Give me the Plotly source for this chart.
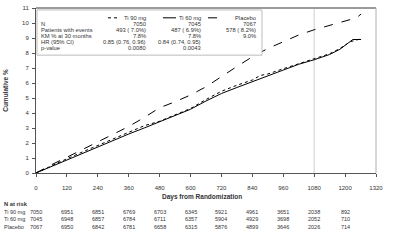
import plotly.graph_objects as go

# ---------------- data ----------------
days_ti90 = [0, 30, 60, 120, 180, 240, 300, 360, 420, 480, 540, 600, 660, 720, 780, 840, 870, 900, 960, 1020, 1080, 1140, 1180, 1220, 1262]
cum_ti90 = [0, 0.25, 0.5, 0.95, 1.4, 1.85, 2.3, 2.75, 3.15, 3.45, 3.85, 4.3, 4.9, 5.45, 5.85, 6.2, 6.5, 6.6, 6.95, 7.3, 7.6, 7.95, 8.3, 8.75, 8.95]

days_ti60 = [0, 30, 60, 120, 180, 240, 300, 360, 420, 480, 540, 600, 660, 720, 780, 840, 900, 960, 1020, 1080, 1140, 1180, 1215, 1230, 1262]
cum_ti60 = [0, 0.22, 0.45, 0.85, 1.3, 1.75, 2.2, 2.6, 3.0, 3.4, 3.8, 4.25, 4.8, 5.3, 5.7, 6.1, 6.5, 6.9, 7.25, 7.55, 7.9, 8.25, 8.7, 8.9, 8.9]

days_pbo = [0, 30, 60, 120, 180, 240, 300, 360, 420, 480, 540, 600, 660, 720, 780, 840, 900, 960, 1020, 1080, 1140, 1200, 1245, 1262]
cum_pbo = [0, 0.3, 0.55, 1.05, 1.55, 2.1, 2.6, 3.1, 3.7, 4.35, 4.75, 5.2, 5.75, 6.45, 7.1, 7.75, 8.3, 8.75, 9.2, 9.55, 9.85, 10.1, 10.35, 10.6]

series_names = ["Ti 90 mg", "Ti 60 mg", "Placebo"]
n_patients = ["7050", "7045", "7067"]
pts_events = ["493 ( 7.0%)", "487 ( 6.9%)", "578 ( 8.2%)"]
km_30 = ["7.8%", "7.8%", "9.0%"]
hr_ci = ["0.85 (0.76, 0.96)", "0.84 (0.74, 0.95)", ""]
p_values = ["0.0080", "0.0043", ""]
row_labels = ["N", "Patients with events", "KM % at 30 months", "HR (95% CI)", "p-value"]

tick_days = [0, 120, 240, 360, 480, 600, 720, 840, 960, 1080, 1200, 1320]
risk_days = [0, 120, 240, 360, 480, 600, 720, 840, 960, 1080, 1200]
at_risk_ti90 = [7050, 6951, 6851, 6769, 6703, 6345, 5921, 4961, 3651, 2038, 892]
at_risk_ti60 = [7045, 6948, 6857, 6784, 6711, 6357, 5904, 4929, 3698, 2052, 710]
at_risk_pbo = [7067, 6950, 6842, 6781, 6658, 6315, 5876, 4899, 3646, 2026, 714]
risk_labels = ["Ti 90 mg", "Ti 60 mg", "Placebo"]
ref_day = 1080

# ---------------- layout helpers ----------------
W, H = 400, 241
PL, PR, PT, PB = 36, 376, 5, 173
def px(x):
    return (x - PL) / (PR - PL)
def py(y):
    return (PB - y) / (PB - PT)

FONT = "Liberation Sans, Arial, sans-serif"
INK = "#333"

fig = go.Figure()
styles = [("dot", days_ti90, cum_ti90), ("solid", days_ti60, cum_ti60), ("dash", days_pbo, cum_pbo)]
for name, (dash, xs, ys) in zip(series_names, styles):
    fig.add_trace(go.Scatter(x=xs, y=ys, mode="lines", name=name,
                             line=dict(color="black", width=1, dash=dash, shape="linear"),
                             showlegend=False, hoverinfo="skip"))

shapes = []
shapes.append(dict(type="line", xref="x", yref="paper", x0=ref_day, x1=ref_day, y0=0, y1=1,
                   line=dict(color="#cfcfcf", width=1), layer="below"))
shapes.append(dict(type="line", xref="paper", yref="paper", x0=0, x1=1, y0=1, y1=1,
                   line=dict(color="#9a9a9a", width=2)))
shapes.append(dict(type="line", xref="paper", yref="paper", x0=1, x1=1, y0=0, y1=1,
                   line=dict(color="#b0b0b0", width=1)))
shapes.append(dict(type="rect", xref="paper", yref="paper", x0=px(37), x1=px(262), y0=py(53), y1=py(7),
                   line=dict(color="#bdbdbd", width=1), fillcolor="white"))
for (x0, x1, dash) in [(108, 117, "dot"), (163, 176, "solid"), (208, 221, "dash")]:
    shapes.append(dict(type="line", xref="paper", yref="paper", x0=px(x0), x1=px(x1), y0=py(15), y1=py(15),
                       line=dict(color="black", width=1, dash=dash)))

ann = []
def text(x, y, s, anchor="left", size=5.5, bold=False, xref="paper"):
    ann.append(dict(x=x if xref != "paper" else px(x), y=py(y), xref=xref, yref="paper",
                    text=("<b>%s</b>" % s) if bold else s, showarrow=False,
                    xanchor=anchor, yanchor="middle", borderpad=0,
                    font=dict(family=FONT, size=size, color=INK)))

col_right = [147, 202, 257]
for i, nm in enumerate(series_names):
    text(col_right[i], 15, nm, "right", size=5.8)
rows_y = [21.5, 27.5, 33.5, 39.5, 45.5]
cols = [n_patients, pts_events, km_30, hr_ci, p_values]
for r, (lab, vals) in enumerate(zip(row_labels, cols)):
    text(40, rows_y[r], lab, "left", size=5.8)
    for i, v in enumerate(vals):
        if v:
            text(col_right[i], rows_y[r], v, "right", size=5.8)

text(202, 197, "Days from Randomization", "center", size=6.5, bold=True)

text(3, 205, "N at risk", "left", size=5.8, bold=True)
risk_y = [212.5, 220, 227.5]
for r, (lab, vals) in enumerate(zip(risk_labels, [at_risk_ti90, at_risk_ti60, at_risk_pbo])):
    text(3, risk_y[r], lab, "left", size=5.5)
    for d, v in zip(risk_days, vals):
        text(d, risk_y[r], str(v), "center", size=5.5, xref="x")

fig.update_layout(
    width=W, height=H,
    margin=dict(l=PL, r=W - PR, t=PT, b=H - PB, pad=0),
    paper_bgcolor="white", plot_bgcolor="white",
    showlegend=False,
    shapes=shapes, annotations=ann,
    font=dict(family=FONT, size=6, color=INK),
    xaxis=dict(range=[0, 1320], tickvals=tick_days, ticktext=[str(t) for t in tick_days],
               showgrid=False, zeroline=False, showline=True, linecolor="#555", linewidth=1,
               ticks="outside", ticklen=3, tickcolor="#555", ticklabelstandoff=6,
               tickfont=dict(size=6, family=FONT, color=INK)),
    yaxis=dict(range=[0, 11], tickvals=list(range(0, 12)), showgrid=False, zeroline=False,
               showline=True, linecolor="#555", linewidth=1, ticks="outside", ticklen=3, tickcolor="#555",
               ticklabelstandoff=2,
               tickfont=dict(size=6, family=FONT, color=INK),
               title=dict(text="<b>Cumulative %</b>", font=dict(size=6.5, family=FONT, color=INK), standoff=12)),
)

fig.write_html("out.html")
